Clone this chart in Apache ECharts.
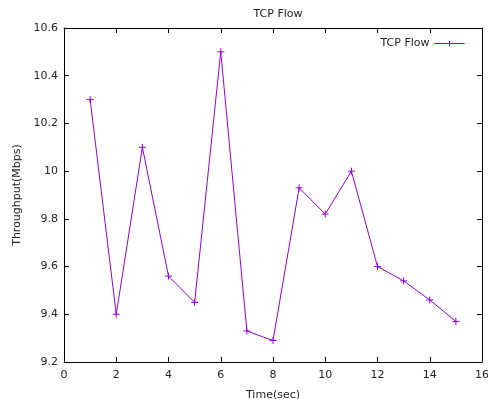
<!DOCTYPE html>
<html>
<head>
<meta charset="utf-8">
<script src="https://cdn.jsdelivr.net/npm/echarts@6/dist/echarts.min.js"></script>
<style>
  html, body { margin: 0; padding: 0; background: #fff; }
  #chart { width: 488px; height: 399px; }
</style>
</head>
<body>
<div id="chart"></div>
<script>
// data
let timeSec = [1, 2, 3, 4, 5, 6, 7, 8, 9, 10, 11, 12, 13, 14, 15];
let throughput = [10.3, 9.4, 10.1, 9.56, 9.45, 10.5, 9.33, 9.29, 9.93, 9.82, 10.0, 9.6, 9.54, 9.46, 9.37];
let xTicks = [0, 2, 4, 6, 8, 10, 12, 14, 16];
let yTicks = [9.2, 9.4, 9.6, 9.8, 10, 10.2, 10.4, 10.6];

let purple = '#9400d3';
let font = 'DejaVu Sans';
// gnuplot style "+" marker
let plusSymbol = 'path://M0,5L10,5M5,0L5,10';

let seriesData = [];
for (let i = 0; i < timeSec.length; i++) {
    seriesData.push([timeSec[i], throughput[i]]);
}

function tickAxis(pos, isX, showLabel, name) {
    let ticks = isX ? xTicks : yTicks;
    let axis = {
        type: 'value',
        position: pos,
        min: ticks[0],
        max: ticks[ticks.length - 1],
        interval: isX ? 2 : 0.2,
        axisLine: { show: true, onZero: false, lineStyle: { color: '#000', width: 1 } },
        axisTick: { show: true, inside: true, length: 5, lineStyle: { color: '#000' } },
        splitLine: { show: false },
        axisLabel: {
            show: showLabel,
            color: '#222',
            fontFamily: font,
            fontSize: 11,
            margin: isX ? 8 : 6,
            formatter: function (v) { return String(Math.round(v * 10) / 10); }
        }
    };
    if (name) {
        axis.name = name;
        axis.nameLocation = 'middle';
        axis.nameGap = isX ? 28 : 40;
        axis.nameTextStyle = { color: '#222', fontFamily: font, fontSize: 11 };
    }
    return axis;
}

let myChart = echarts.init(document.getElementById('chart'));
let option = {
    animation: false,
    title: {
        text: 'TCP Flow',
        left: 273,
        textAlign: 'center',
        top: 4,
        textStyle: { color: '#222', fontFamily: font, fontSize: 11, fontWeight: 'normal' }
    },
    legend: {
        right: 18,
        top: 33,
        align: 'right',
        itemWidth: 30,
        itemHeight: 7,
        itemGap: 5,
        lineStyle: { color: purple, width: 1 },
        itemStyle: { color: 'transparent', borderColor: purple, borderWidth: 1 },
        textStyle: { color: '#222', fontFamily: font, fontSize: 11 },
        data: ['TCP Flow']
    },
    grid: { left: 64, right: 6, top: 28, bottom: 37, containLabel: false, outerBoundsMode: 'none' },
    xAxis: [
        tickAxis('bottom', true, true, 'Time(sec)'),
        tickAxis('top', true, false, null)
    ],
    yAxis: [
        tickAxis('left', false, true, 'Throughput(Mbps)'),
        tickAxis('right', false, false, null)
    ],
    series: [
        {
            name: 'TCP Flow',
            type: 'line',
            data: seriesData,
            symbol: plusSymbol,
            symbolSize: 7,
            showAllSymbol: true,
            lineStyle: { color: purple, width: 1 },
            itemStyle: { color: 'transparent', borderColor: purple, borderWidth: 1 },
            emphasis: { disabled: true }
        }
    ]
};
myChart.setOption(option);
</script>
</body>
</html>
